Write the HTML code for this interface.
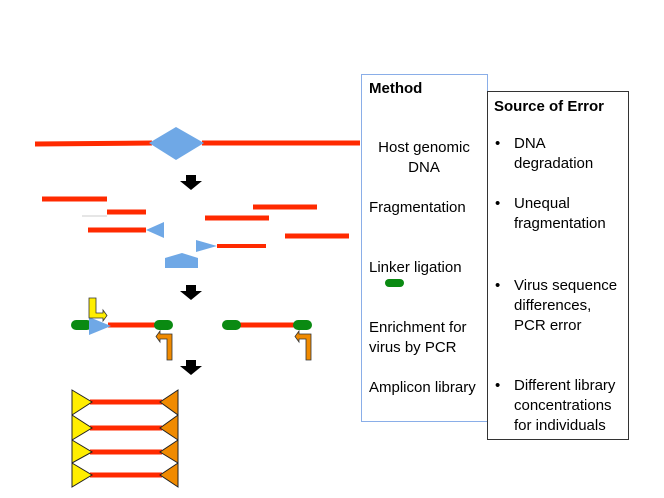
<!DOCTYPE html>
<html><head><style>
body{margin:0;background:#fff;width:664px;height:498px;overflow:hidden;position:relative;font-family:"Liberation Sans",sans-serif;}
.t{position:absolute;font-size:15px;color:#000;white-space:nowrap;line-height:20px}
</style></head><body>
<svg width="664" height="498" style="position:absolute;left:0;top:0">
<g stroke="#ff2a00" stroke-width="5">
<line x1="35" y1="144" x2="152" y2="143"/><line x1="202" y1="143" x2="360" y2="143"/>
<line x1="42" y1="199" x2="107" y2="199"/>
<line x1="107" y1="212" x2="146" y2="212"/>
<line x1="88" y1="230" x2="146" y2="230"/>
<line x1="205" y1="218" x2="269" y2="218"/>
<line x1="253" y1="207" x2="317" y2="207"/>
<line x1="285" y1="236" x2="349" y2="236"/>
<line x1="217" y1="246" x2="266" y2="246" stroke-width="4"/>
<line x1="108" y1="325" x2="160" y2="325"/>
<line x1="240" y1="325" x2="296" y2="325"/>
<line x1="90" y1="402" x2="162" y2="402"/>
<line x1="90" y1="428" x2="162" y2="428"/>
<line x1="90" y1="452" x2="162" y2="452"/>
<line x1="90" y1="475" x2="162" y2="475"/>
</g>
<line x1="82" y1="216" x2="107" y2="216" stroke="#ccc" stroke-width="1"/>
<g fill="#6fa8e6">
<polygon points="149,143 176,127 204,143 176,160"/>
<polygon points="146,230 164,222 164,238"/>
<polygon points="196,240 217,246 196,252"/>
<polygon points="165,258 182,253 198,258 198,268 165,268"/>
</g>
<g fill="#0a8a12">
<rect x="71" y="320" width="21" height="10" rx="5"/>
<rect x="154" y="320" width="19" height="10" rx="5"/>
<rect x="222" y="320" width="19" height="10" rx="5"/>
<rect x="293" y="320" width="19" height="10" rx="5"/>
<rect x="385" y="279" width="19" height="8" rx="4"/>
</g>
<polygon points="89,317 111,326 89,335" fill="#6fa8e6"/>
<g fill="#000">
<polygon points="186,175 196,175 196,181 202,181 191,190 180,181 186,181"/>
<polygon points="186,285 196,285 196,291 202,291 191,300 180,291 186,291"/>
<polygon points="186,360 196,360 196,366 202,366 191,375 180,366 186,366"/>
</g>
<polygon points="89,298 96,298 96,313 103,313 103,310 107,315.5 103,321 103,318 89,318" fill="#ffee00" stroke="#333" stroke-width="0.8"/>
<g fill="#f08a00" stroke="#333" stroke-width="0.8">
<polygon points="172,334 172,360 167,360 167,339 160,339 160,342 156,336.5 160,331 160,334"/>
<polygon points="311,334 311,360 306,360 306,339 299,339 299,342 295,336.5 299,331 299,334"/>
</g>
<g stroke="#222" stroke-width="1">
<g fill="#ffee00">
<polygon points="72,390 92,402 72,415"/>
<polygon points="72,415 92,428 72,440"/>
<polygon points="72,440 92,452 72,463"/>
<polygon points="72,463 92,475 72,487"/>
</g>
<g fill="#f08a00">
<polygon points="178,390 160,402 178,415"/>
<polygon points="178,415 160,428 178,440"/>
<polygon points="178,440 160,452 178,463"/>
<polygon points="178,463 160,475 178,487"/>
</g>
</g>
<rect x="361.5" y="74.5" width="126" height="347" fill="#fff" stroke="#8aaee8" stroke-width="1"/>
<rect x="487.5" y="91.5" width="141" height="348" fill="#fff" stroke="#333" stroke-width="1"/>
<rect x="385" y="279" width="19" height="8" rx="4" fill="#0a8a12"/>
</svg>
<div class="t" style="left:369px;top:79px;font-weight:bold">Method</div>
<div class="t" style="left:361px;width:126px;text-align:center;top:138px">Host genomic<br>DNA</div>
<div class="t" style="left:369px;top:198px">Fragmentation</div>
<div class="t" style="left:369px;top:258px">Linker ligation</div>
<div class="t" style="left:369px;top:318px">Enrichment for<br>virus by PCR</div>
<div class="t" style="left:369px;top:378px">Amplicon library</div>
<div class="t" style="left:494px;top:97px;font-weight:bold">Source of Error</div>
<div class="t" style="left:495px;top:134px">•</div>
<div class="t" style="left:514px;top:134px">DNA<br>degradation</div>
<div class="t" style="left:495px;top:194px">•</div>
<div class="t" style="left:514px;top:194px">Unequal<br>fragmentation</div>
<div class="t" style="left:495px;top:276px">•</div>
<div class="t" style="left:514px;top:276px">Virus sequence<br>differences,<br>PCR error</div>
<div class="t" style="left:495px;top:376px">•</div>
<div class="t" style="left:514px;top:376px">Different library<br>concentrations<br>for individuals</div>
</body></html>
